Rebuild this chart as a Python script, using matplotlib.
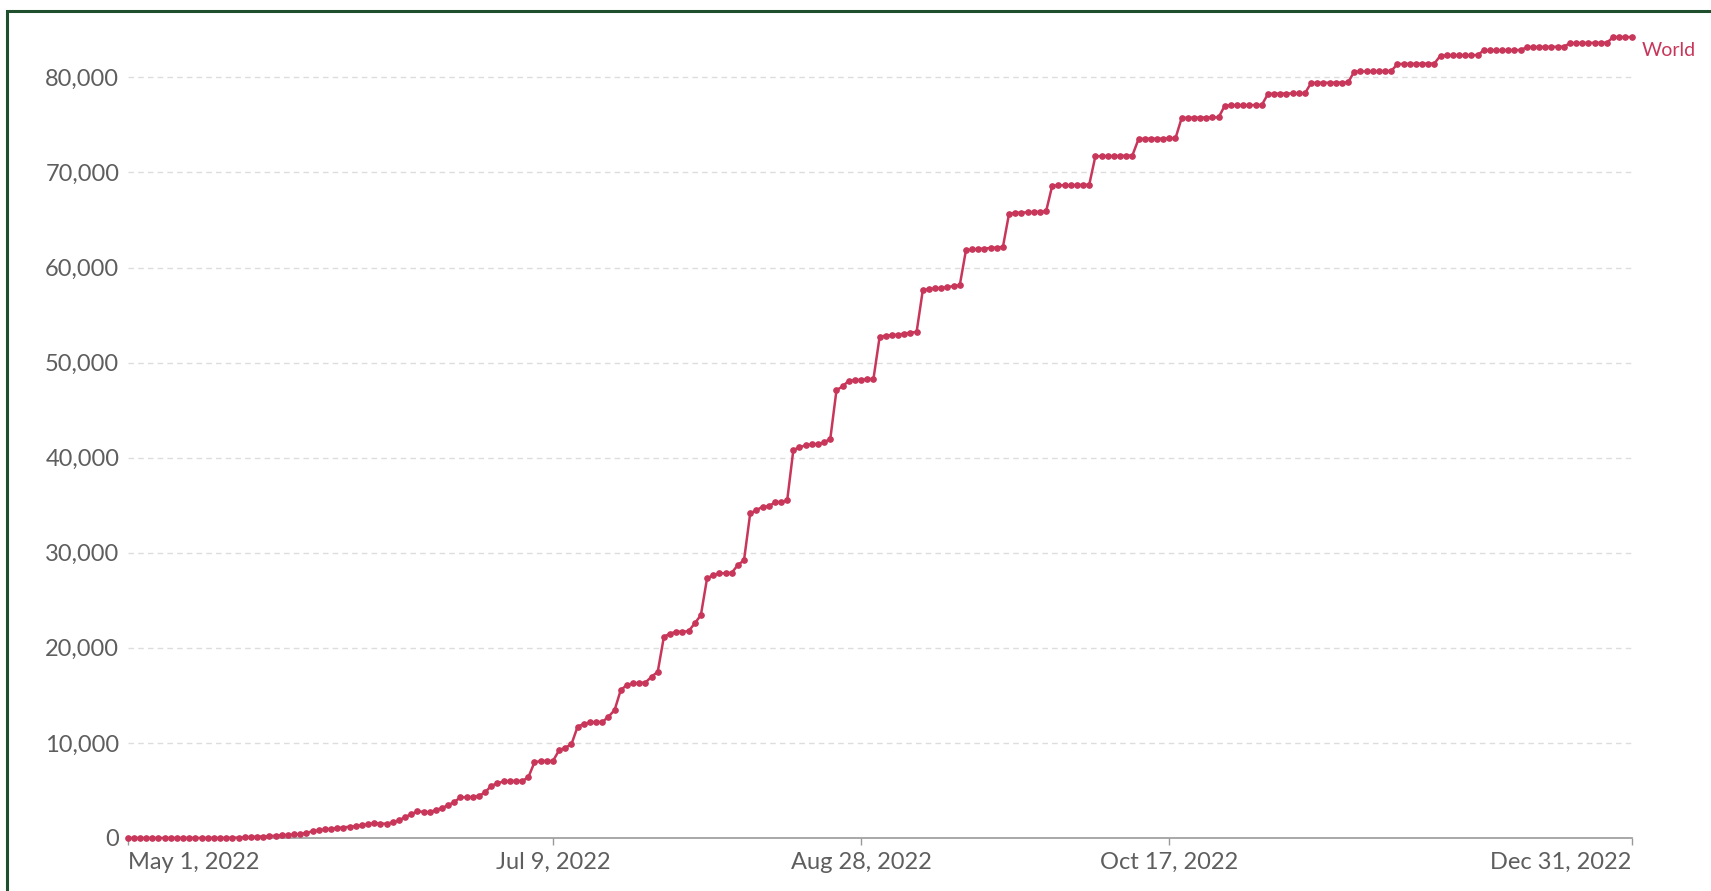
import numpy as np
import pandas as pd
import matplotlib
matplotlib.use("Agg")
import matplotlib.pyplot as plt
from matplotlib.patches import Rectangle

plt.rcParams['font.family'] = ['Lato', 'DejaVu Sans']

# cumulative confirmed cases, one row per week (Sun..Sat), starting May 1, 2022
start_date = "2022-05-01"
world_cases = [
    0, 0, 0, 1, 1, 1, 1,
    1, 1, 1, 2, 2, 3, 4,
    5, 8, 15, 25, 45, 70, 100,
    120, 150, 200, 250, 290, 330, 380,
    400, 550, 700, 800, 900, 980, 1050,
    1100, 1200, 1230, 1350, 1450, 1550, 1520,
    1500, 1650, 1850, 2200, 2500, 2800, 2750,
    2700, 2950, 3150, 3450, 3800, 4270, 4280,
    4300, 4450, 4800, 5500, 5750, 5950, 6000,
    6000, 6000, 6370, 7950, 8100, 8100, 8100,
    9230, 9500, 9860, 11700, 12000, 12150, 12200,
    12200, 12750, 13450, 15560, 16100, 16260, 16300,
    16350, 16960, 17480, 21160, 21500, 21690, 21700,
    21750, 22570, 23440, 27300, 27650, 27830, 27850,
    27900, 28700, 29220, 34130, 34480, 34830, 34900,
    35300, 35350, 35500, 40800, 41100, 41300, 41400,
    41450, 41600, 42000, 47100, 47500, 48100, 48150,
    48200, 48250, 48300, 52700, 52850, 52880, 52950,
    53050, 53150, 53230, 57600, 57750, 57800, 57850,
    57950, 58050, 58130, 61800, 61900, 61950, 62000,
    62050, 62100, 62160, 65670, 65750, 65780, 65800,
    65850, 65880, 65900, 68600, 68650, 68650, 68650,
    68680, 68700, 68700, 71700, 71720, 71720, 71730,
    71750, 71760, 71780, 73500, 73550, 73550, 73550,
    73560, 73580, 73600, 75720, 75760, 75760, 75770,
    75780, 75790, 75800, 77030, 77060, 77060, 77070,
    77080, 77090, 77100, 78250, 78290, 78290, 78300,
    78310, 78320, 78330, 79400, 79430, 79430, 79440,
    79450, 79460, 79470, 80600, 80620, 80630, 80640,
    80650, 80660, 80670, 81400, 81420, 81420, 81430,
    81440, 81450, 81460, 82300, 82310, 82310, 82320,
    82330, 82340, 82350, 82830, 82840, 82840, 82850,
    82860, 82870, 82880, 83180, 83190, 83190, 83200,
    83210, 83220, 83230, 83600, 83610, 83610, 83620,
    83630, 83640, 83650, 84230, 84240, 84240, 84240,
]
series_name = "World"

x_tick_dates = ["2022-05-01", "2022-07-09", "2022-08-28", "2022-10-17", "2022-12-31"]
x_tick_labels = ["May 1, 2022", "Jul 9, 2022", "Aug 28, 2022", "Oct 17, 2022", "Dec 31, 2022"]
y_ticks = [0, 10000, 20000, 30000, 40000, 50000, 60000, 70000, 80000]

dates = pd.date_range(start_date, periods=len(world_cases), freq="D")
line_color = "#c8365a"
text_gray = "#5e5e5e"

fig = plt.figure(figsize=(17.11, 8.91), dpi=100)
ax = fig.add_axes([0.0746, 0.0595, 0.879, 0.907])

ax.plot(dates, world_cases, color=line_color, lw=1.8, marker="o", ms=3.8,
        clip_on=False, zorder=3)

ax.set_xlim(dates[0], dates[-1])
ax.set_ylim(0, 85000)

ax.set_yticks(y_ticks)
ax.set_yticklabels([f"{v:,}" for v in y_ticks])
ax.tick_params(axis="y", length=0, pad=6, labelsize=17, labelcolor=text_gray)

ax.set_xticks(pd.to_datetime(x_tick_dates))
ax.set_xticklabels(x_tick_labels)
ax.tick_params(axis="x", length=5, width=1, color="#999999", pad=5,
               labelsize=17, labelcolor=text_gray)
labels = ax.get_xticklabels()
labels[0].set_ha("left")
labels[-1].set_ha("right")

for s in ["top", "right", "left"]:
    ax.spines[s].set_visible(False)
ax.spines["bottom"].set_color("#999999")
ax.spines["bottom"].set_linewidth(1.2)

for v in y_ticks[1:]:
    ax.axhline(v, color="#dddddd", lw=1, ls=(0, (4, 3)), zorder=1)

ax.annotate(series_name, xy=(dates[-1], world_cases[-1]), xytext=(7, -10),
            textcoords="offset points", color=line_color, fontsize=14,
            va="center", ha="left", annotation_clip=False)

# dark green frame around the screenshot
fig.patches.append(Rectangle((7 / 1711, -0.05), 1.2, 1 - 11 / 891 + 0.05,
                             transform=fig.transFigure, fill=False,
                             edgecolor="#1f4f2c", lw=2.2))

fig.savefig("out.png", dpi=100)
